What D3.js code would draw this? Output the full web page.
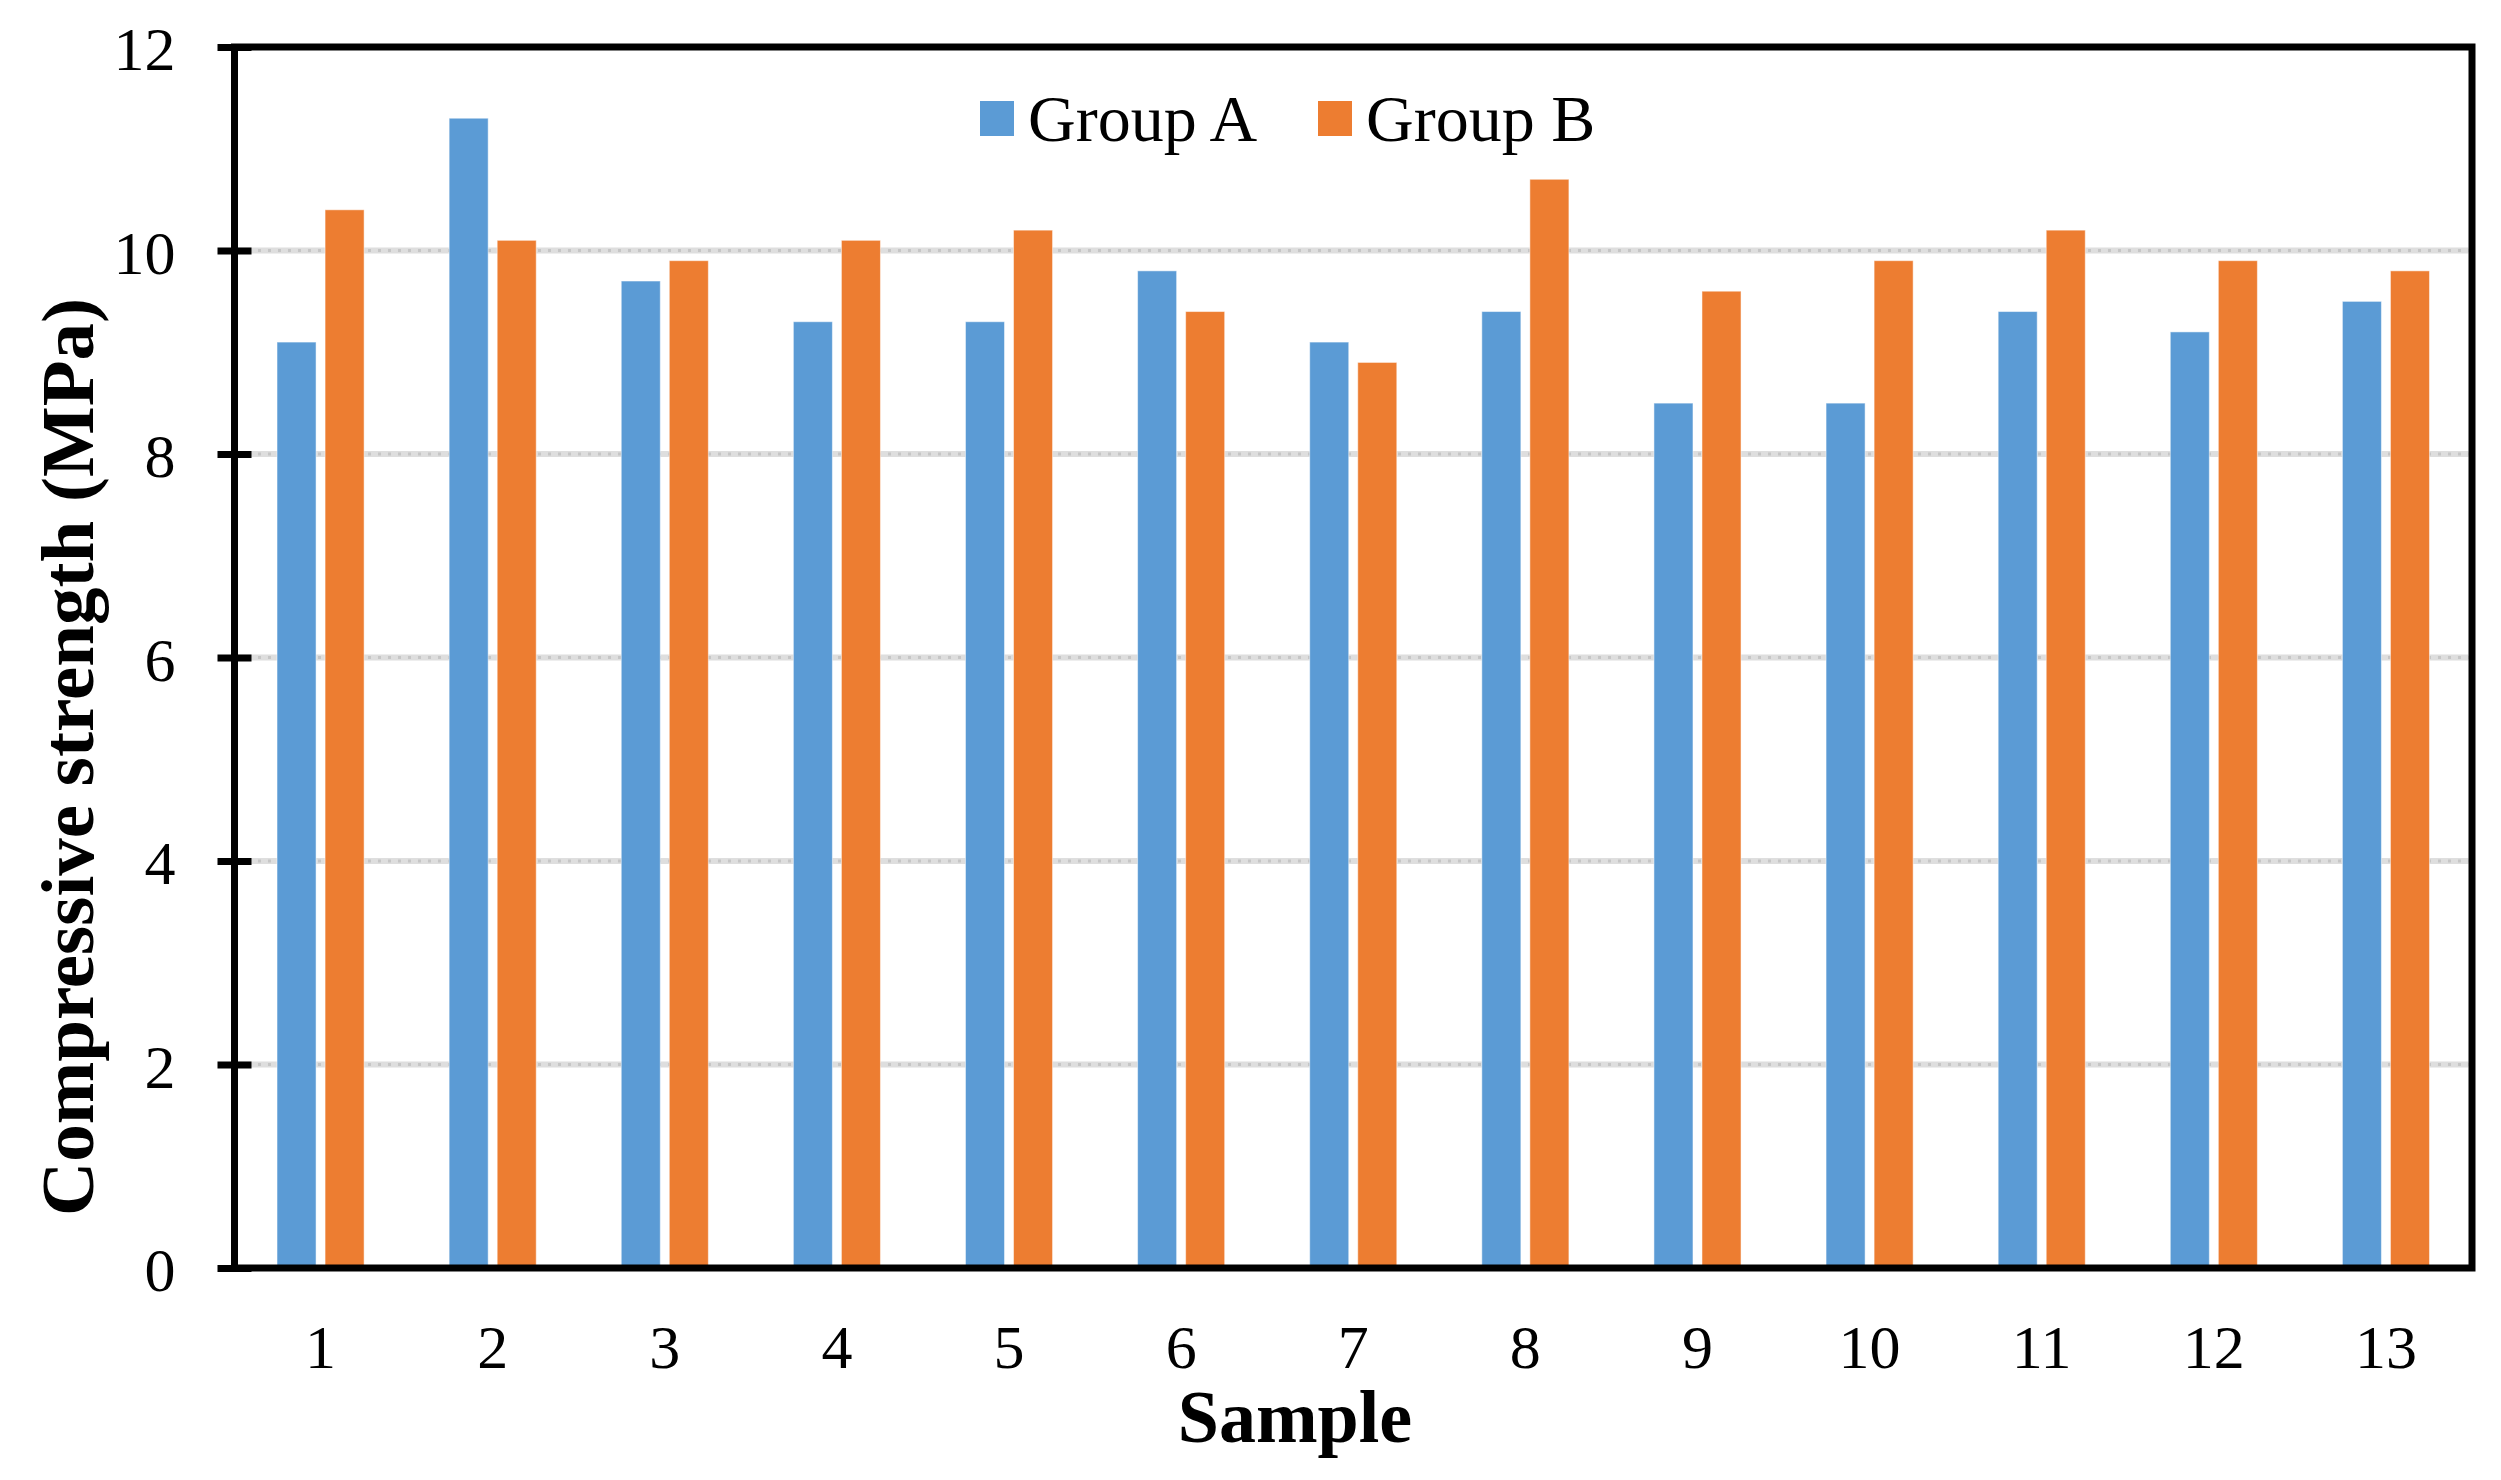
<!DOCTYPE html>
<html>
<head>
<meta charset="utf-8">
<script src="https://cdn.jsdelivr.net/npm/d3@7"></script>
<style>
  html, body { margin: 0; padding: 0; background: #fff; }
  svg { display: block; }
  text { font-family: "Liberation Serif", "Times New Roman", serif; fill: #000; }
</style>
</head>
<body>
<svg id="chart" width="2501" height="1480"></svg>
<script>
const categories = ["1","2","3","4","5","6","7","8","9","10","11","12","13"];
const seriesNames = ["Group A", "Group B"];
const groupA = [9.1, 11.3, 9.7, 9.3, 9.3, 9.8, 9.1, 9.4, 8.5, 8.5, 9.4, 9.2, 9.5];
const groupB = [10.4, 10.1, 9.9, 10.1, 10.2, 9.4, 8.9, 10.7, 9.6, 9.9, 10.2, 9.9, 9.8];
const yTicks = [0, 2, 4, 6, 8, 10, 12];
const gridTicks = [2, 4, 6, 8, 10];
const colors = ["#5B9BD5", "#ED7D31"];
const yTitle = "Compressive strength (MPa)";
const xTitle = "Sample";

const svg = d3.select("#chart");
const L = 234.5, R = 2472, T = 47, B = 1268;

const x = d3.scaleBand().domain(categories).range([L, R]).paddingInner(0).paddingOuter(0);
const bw = x.bandwidth();
const clusterHalf = bw * 0.253;
const x1 = d3.scaleBand().domain(seriesNames)
  .range([bw / 2 - clusterHalf, bw / 2 + clusterHalf]).paddingInner(0.1875).paddingOuter(0);
const y = d3.scaleLinear().domain([0, 12]).range([B, T]);
const color = d3.scaleOrdinal().domain(seriesNames).range(colors);

// gridlines
const grid = svg.append("g");
grid.selectAll("line.base").data(gridTicks).join("line")
  .attr("x1", L + 3.5).attr("x2", R - 3.5)
  .attr("y1", d => y(d)).attr("y2", d => y(d))
  .attr("stroke", "#dedede").attr("stroke-width", 6);
grid.selectAll("line.dots").data(gridTicks).join("line")
  .attr("x1", L + 3.5).attr("x2", R - 3.5)
  .attr("y1", d => y(d)).attr("y2", d => y(d))
  .attr("stroke", "#c6c6c6").attr("stroke-width", 3)
  .attr("stroke-dasharray", "3 7");

// bars
const rows = categories.map((c, i) => ({ cat: c, values: [
  { key: seriesNames[0], v: groupA[i] },
  { key: seriesNames[1], v: groupB[i] }
]}));
svg.append("g").selectAll("g").data(rows).join("g")
  .attr("transform", d => `translate(${x(d.cat)},0)`)
  .selectAll("rect").data(d => d.values).join("rect")
  .attr("x", d => x1(d.key))
  .attr("width", x1.bandwidth())
  .attr("y", d => y(d.v))
  .attr("height", d => y(0) - y(d.v))
  .attr("fill", d => color(d.key))
  .attr("stroke", "#ffffff").attr("stroke-opacity", 0.5).attr("stroke-width", 1);

// frame
svg.append("rect")
  .attr("x", L).attr("y", T).attr("width", R - L).attr("height", B - T)
  .attr("fill", "none").attr("stroke", "#000").attr("stroke-width", 7);

// y axis
const yAxis = svg.append("g").attr("transform", `translate(${L},0)`)
  .call(d3.axisLeft(y).tickValues(yTicks).tickSize(17).tickPadding(42).tickSizeOuter(0));
yAxis.select(".domain").remove();
yAxis.selectAll(".tick line").attr("x1", 17).attr("stroke", "#000").attr("stroke-width", 7);
yAxis.selectAll(".tick text")
  .attr("font-family", "Liberation Serif, serif")
  .attr("font-size", 62).attr("dy", "0.37em");

// x axis
const xAxis = svg.append("g").attr("transform", `translate(0,${B})`)
  .call(d3.axisBottom(x).tickSize(0).tickPadding(0));
xAxis.select(".domain").remove();
xAxis.selectAll(".tick text")
  .attr("font-family", "Liberation Serif, serif")
  .attr("font-size", 62).attr("y", 100).attr("dy", 0);

// axis titles
svg.append("text")
  .attr("transform", `translate(93,757) rotate(-90)`)
  .attr("text-anchor", "middle")
  .attr("font-size", 75).attr("font-weight", "bold")
  .text(yTitle);
svg.append("text")
  .attr("x", 1295).attr("y", 1442)
  .attr("text-anchor", "middle")
  .attr("font-size", 74).attr("font-weight", "bold")
  .text(xTitle);

// legend
const legendX = [980, 1318];
const lg = svg.append("g").selectAll("g").data(seriesNames).join("g")
  .attr("transform", (d, i) => `translate(${legendX[i]},0)`);
lg.append("rect").attr("x", 0).attr("y", 101).attr("width", 34).attr("height", 35)
  .attr("fill", d => color(d));
lg.append("text").attr("x", 48).attr("y", 141)
  .attr("font-size", 66).text(d => d);
</script>
</body>
</html>
